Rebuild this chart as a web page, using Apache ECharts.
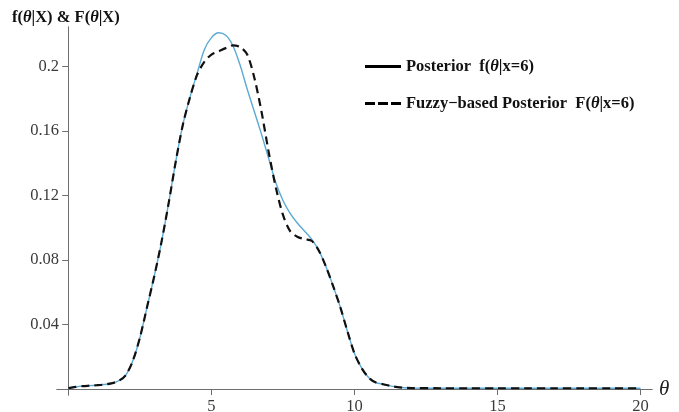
<!DOCTYPE html>
<html>
<head>
<meta charset="utf-8">
<script src="https://cdn.jsdelivr.net/npm/echarts@6/dist/echarts.min.js"></script>
<style>
  html, body { margin: 0; padding: 0; background: #ffffff; }
  #chart { width: 679px; height: 412px; }
</style>
</head>
<body>
<div id="chart"></div>
<script>
// Grid of theta values where both densities are sampled
const theta = [0, 0.25, 0.5, 0.75, 1, 1.25, 1.5, 1.75, 2, 2.25, 2.5, 2.75, 3, 3.25, 3.5, 3.75,
  4, 4.25, 4.5, 4.75, 5, 5.25, 5.5, 5.75, 6, 6.25, 6.5, 6.75, 7, 7.25, 7.5, 7.75,
  8, 8.25, 8.5, 8.75, 9, 9.25, 9.5, 9.75, 10, 10.25, 10.5, 10.75, 11, 11.25, 11.5, 11.75,
  12, 13, 14, 15, 16, 17, 18, 19, 20];

// Posterior f(theta | x = 6)
const posterior = [0.0006, 0.0013, 0.0018, 0.0021, 0.0024, 0.0028, 0.0035, 0.0050,
  0.0085, 0.0175, 0.032, 0.051, 0.070, 0.091, 0.115, 0.141,
  0.164, 0.181, 0.196, 0.2105, 0.218, 0.221, 0.2195, 0.213,
  0.201, 0.186, 0.172, 0.158, 0.143, 0.128, 0.117, 0.109,
  0.103, 0.098, 0.093, 0.086, 0.076, 0.064, 0.051, 0.036,
  0.022, 0.013, 0.007, 0.004, 0.003, 0.002, 0.0012, 0.0008,
  0.0006, 0.0005, 0.0005, 0.0005, 0.0005, 0.0005, 0.0005, 0.0005, 0.0005];

// Fuzzy-based posterior F(theta | x = 6)
const fuzzyPosterior = [0.0006, 0.0013, 0.0018, 0.0021, 0.0024, 0.0028, 0.0035, 0.0050,
  0.0085, 0.0175, 0.032, 0.051, 0.070, 0.091, 0.115, 0.141,
  0.164, 0.181, 0.195, 0.203, 0.2075, 0.2095, 0.2115, 0.2132,
  0.2122, 0.2075, 0.193, 0.172, 0.147, 0.125, 0.108, 0.098,
  0.0945, 0.093, 0.092, 0.086, 0.076, 0.064, 0.051, 0.036,
  0.022, 0.013, 0.007, 0.004, 0.003, 0.002, 0.0012, 0.0008,
  0.0006, 0.0005, 0.0005, 0.0005, 0.0005, 0.0005, 0.0005, 0.0005, 0.0005];

const xTicks = [5, 10, 15, 20];
const yTicks = [0.04, 0.08, 0.12, 0.16, 0.2];
const seriesNames = ['Posterior  f(θ|x=6)', 'Fuzzy−based Posterior  F(θ|x=6)'];
const yTitle = 'f(θ|X) & F(θ|X)';
const xTitle = 'θ';

const serif = '"Liberation Serif", "DejaVu Serif", serif';
const axisGray = '#6e6e6e';
const textGray = '#3a3a3a';

// Legend keys: a solid bar and a three-dash bar
const solidKey = 'path://M0,0H36V3H0Z';
const dashedKey = 'path://M0,0H10V3H0Z M13,0H23V3H13Z M26,0H36V3H26Z';

// Turn a plain label into rich text with an italic theta
function richTheta(s) {
  return '{b|' + s.split('θ').join('}{bi|θ}{b|') + '}';
}
function boldRich(size) {
  return {
    b: { fontFamily: serif, fontWeight: 'bold', fontSize: size, color: '#111' },
    bi: { fontFamily: serif, fontWeight: 'bold', fontStyle: 'italic', fontSize: size, color: '#111' }
  };
}

const pairs = (ys) => theta.map((t, i) => [t, ys[i]]);

const xRange = { min: -0.4, max: 20.4 };
const yRange = { min: -0.0037, max: 0.2246 };

const chart = echarts.init(document.getElementById('chart'), null, { renderer: 'canvas' });

chart.setOption({
  animation: false,
  backgroundColor: '#ffffff',
  title: {
    text: richTheta(yTitle),
    left: 12, top: 9, padding: 0,
    textStyle: { rich: boldRich(16.5) }
  },
  legend: {
    orient: 'vertical',
    left: 365, top: 58, padding: 0,
    itemWidth: 36, itemHeight: 3,
    itemGap: 20,
    formatter: (name) => richTheta(name),
    textStyle: { rich: boldRich(16.5) },
    data: [
      { name: seriesNames[0], icon: solidKey, itemStyle: { color: '#000' } },
      { name: seriesNames[1], icon: dashedKey, itemStyle: { color: '#000' } }
    ]
  },
  grid: { left: 57, top: 27, width: 595, height: 368, containLabel: false, outerBoundsMode: 'none' },
  xAxis: [
    {
      type: 'value', ...xRange,
      name: xTitle, nameLocation: 'end', nameGap: 7,
      nameTextStyle: { fontFamily: serif, fontStyle: 'italic', fontSize: 21, color: '#222', verticalAlign: 'middle' },
      splitLine: { show: false },
      axisLine: { show: true, onZero: true, lineStyle: { color: axisGray, width: 1 } },
      axisTick: { show: true, inside: false, length: 5, customValues: xTicks, lineStyle: { color: axisGray } },
      axisLabel: { show: true, customValues: xTicks, margin: 3, fontFamily: serif, fontSize: 16.5, color: textGray }
    },
    {
      type: 'value', ...xRange,
      splitLine: { show: false },
      axisLine: { show: true, onZero: true, onZeroAxisIndex: 0, lineStyle: { color: axisGray, width: 1 } },
      axisTick: { show: true, inside: true, length: 6, customValues: xTicks, lineStyle: { color: axisGray } },
      axisLabel: { show: false }
    }
  ],
  yAxis: [
    {
      type: 'value', ...yRange,
      splitLine: { show: false },
      axisLine: { show: true, onZero: true, lineStyle: { color: axisGray, width: 1 } },
      axisTick: { show: true, inside: false, length: 6, customValues: yTicks, lineStyle: { color: axisGray } },
      axisLabel: {
        show: true, customValues: yTicks, margin: -2,
        fontFamily: serif, fontSize: 16.5, color: textGray,
        formatter: (v) => String(+Number(v).toFixed(2))
      }
    },
    {
      type: 'value', ...yRange,
      splitLine: { show: false },
      axisLine: { show: true, onZero: true, onZeroAxisIndex: 0, lineStyle: { color: axisGray, width: 1 } },
      axisTick: { show: true, inside: true, length: 6, customValues: yTicks, lineStyle: { color: axisGray } },
      axisLabel: { show: false }
    }
  ],
  series: [
    {
      name: seriesNames[0],
      type: 'line', xAxisIndex: 0, yAxisIndex: 0,
      data: pairs(posterior),
      smooth: 0.3, showSymbol: false, symbol: 'none',
      lineStyle: { color: '#5aaad4', width: 1.4 },
      z: 3
    },
    {
      name: seriesNames[1],
      type: 'line', xAxisIndex: 0, yAxisIndex: 0,
      data: pairs(fuzzyPosterior),
      smooth: 0.3, showSymbol: false, symbol: 'none',
      lineStyle: { color: '#111', width: 2.2, type: [8, 5] },
      z: 4
    }
  ]
});
</script>
</body>
</html>
